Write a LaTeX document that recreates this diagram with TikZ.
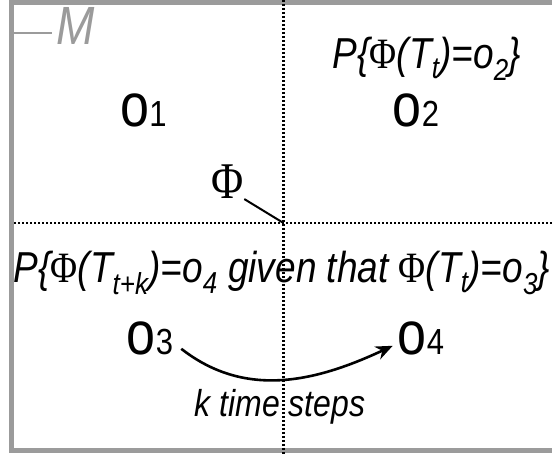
\documentclass[tikz,border=0pt]{standalone}
\usepackage{fontspec}
\setmainfont{Liberation Sans}
\newfontfamily\phifont{Liberation Serif}
\usetikzlibrary{arrows.meta}
\definecolor{framegray}{RGB}{155,155,155}
\newcommand{\Ph}{{\phifont\upshape Φ}}
\newcommand{\tall}[1]{\scalebox{1}[1.17]{#1}}
\newcommand{\ob}[1]{\tall{{\fontsize{52}{56}\selectfont o}{\fontsize{31}{32}\selectfont #1}}}
\tikzset{
  dots/.style={line width=2.2pt,dash pattern=on 2pt off 2pt},
  obs/.style={inner sep=0pt,anchor=base},
  lab/.style={inner sep=0pt,anchor=base,font=\fontsize{37}{40}\selectfont\itshape},
}
\begin{document}
\begin{tikzpicture}[x=1pt,y=1pt]
  \useasboundingbox (0,0) rectangle (552,454);
  \clip (0,0) rectangle (552,454);
  % frame of M
  \draw[framegray,line width=5.5pt] (11.5,451.5) rectangle (580,3.5);
  \draw[framegray,line width=2.2pt] (14,421) -- (52,421);
  \node[anchor=base west,inner sep=0pt,text=framegray,font=\fontsize{46}{50}\selectfont\itshape] (M) at (56,409) {\tall{M}};
  % partition
  \coordinate (X) at (283.5,231);
  \draw[dots] (283.5,454) -- (283.5,0);
  \draw[dots] (14,231) -- (552,231);
  \node[inner sep=0pt,font=\fontsize{44}{48}\selectfont\phifont] (phi) at (228,272) {\tall{Φ}};
  \draw[line width=2pt] (phi.south east) -- (X);
  % observations
  \node[obs] (o1) at (143.5,327) {\ob{1}};
  \node[obs] (o2) at (416,327) {\ob{2}};
  \node[obs] (o3) at (150,99) {\ob{3}};
  \node[obs] (o4) at (421,99) {\ob{4}};
  \node[lab] (p2) at (427,385) {\tall{P\{\Ph(T\textsubscript{t})=o\textsubscript{2}\}}};
  \node[lab] (p43) at (282,171) {\tall{P\{\Ph(T\textsubscript{t+k})=o\textsubscript{4} given that \Ph(T\textsubscript{t})=o\textsubscript{3}\}}};
  \draw[line width=2.6pt,-{Stealth[length=17pt,width=14pt]}] ([shift={(8,7)}]o3.south east)
       to[out=-38,in=205] ([shift={(-5,10)}]o4.south west);
  \node[lab,font=\fontsize{32}{36}\selectfont\itshape] (k) at (280,37) {\tall{k time steps}};
\end{tikzpicture}
\end{document}
